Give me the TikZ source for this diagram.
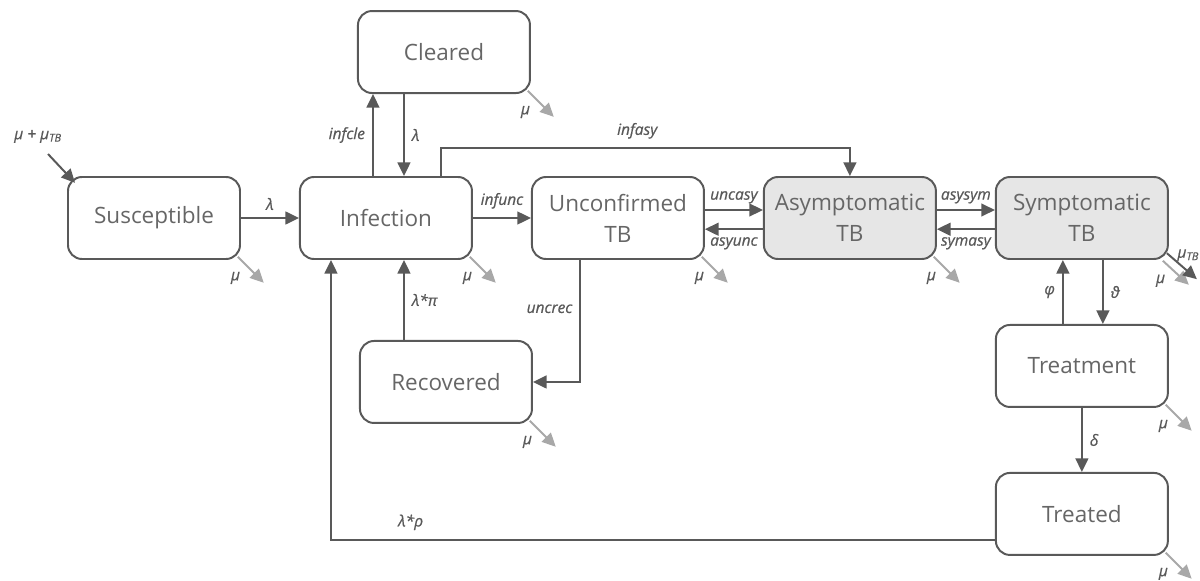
\documentclass[tikz,border=0pt]{standalone}
\usepackage{fontspec}
\setmainfont{Open Sans}
\newfontfamily\ratefont{Open Sans}[FakeBold=0.7]
\usepackage{xcolor}
\usepackage{tikz}
\usetikzlibrary{arrows.meta, positioning, calc}
\definecolor{edge}{HTML}{595959}
\definecolor{loss}{HTML}{A8A8A8}
\definecolor{tbfill}{HTML}{E6E6E6}
\definecolor{boxtext}{HTML}{666666}

\begin{document}
\begin{tikzpicture}[node distance=1.45cm,
  stage/.style={draw=edge, line width=1.4pt, rounded corners=10pt, minimum width=4.3cm, minimum height=2.05cm, align=center, text=boxtext, font=\fontsize{16}{22}\selectfont, inner sep=2pt},
  tb/.style={stage, fill=tbfill},
  flow/.style={draw=edge, line width=1.4pt, -{Triangle[length=3.4mm, width=3.2mm]}},
  drop/.style={draw=loss, line width=1.4pt, -{Triangle[length=3.4mm, width=3.2mm]}},
  rate/.style={text=edge, font=\ratefont\fontsize{11}{13}\selectfont\itshape, inner sep=2pt}]
  \useasboundingbox (0,0) rectangle (30,-14.525);
  % compartments
  \node[stage] (sus) at (3.85,-5.45) {Susceptible};
  \node[stage, right=of sus] (inf) {Infection};
  \node[stage, right=of inf] (unc) {Unconfirmed\\TB};
  \node[tb, right=of unc] (asy) {Asymptomatic\\TB};
  \node[tb, right=of asy] (sym) {Symptomatic\\TB};
  \node[stage, above=2.05cm of inf, xshift=1.45cm] (clr) {Cleared};
  \node[stage, below=2cm of inf, xshift=1.5cm] (rec) {Recovered};
  \node[stage, below=1.6cm of sym] (trt) {Treatment};
  \node[stage, below=1.6cm of trt] (trd) {Treated};
  % inflow
  \coordinate (src) at (1.2,-3.85);
  \node[rate, above=0.2cm of src, xshift=-0.25cm] (srclbl) {μ + μ\textsubscript{TB}};
  \draw[flow] (src) -- ([shift={(0.2,-0.17)}]sus.north west);
  % transitions
  \draw[flow] (sus) -- node[rate, above=3pt] {λ} (inf);
  \draw[flow] (inf) -- node[rate, above=4pt] {infunc} (unc);
  \draw[flow] ([yshift=0.2cm]unc.east) -- node[rate, above=2pt] {uncasy} ([yshift=0.2cm]asy.west);
  \draw[flow] ([yshift=-0.28cm]asy.west) -- node[rate, below=3pt] {asyunc} ([yshift=-0.28cm]unc.east);
  \draw[flow] ([yshift=0.2cm]asy.east) -- node[rate, above=2pt] {asysym} ([yshift=0.2cm]sym.west);
  \draw[flow] ([yshift=-0.28cm]sym.west) -- node[rate, below=3pt] {symasy} ([yshift=-0.28cm]asy.east);
  \draw[flow] ([xshift=-0.325cm]inf.north) -- node[rate, left=3pt] {infcle} ([xshift=-0.325cm]inf.north |- clr.south);
  \draw[flow] ([xshift=0.45cm]inf.north |- clr.south) -- node[rate, right=3pt] {λ} ([xshift=0.45cm]inf.north);
  \draw[flow] ([xshift=1.375cm]inf.north) -- ++(0,0.7) -| node[rate, above=4pt, pos=0.24] {infasy} (asy.north);
  \draw[flow] ([xshift=-0.94cm]unc.south) |- node[rate, left=3pt, pos=0.2] {uncrec} (rec.east);
  \draw[flow] ([xshift=-1.05cm]rec.north) -- node[rate, right=3pt] {λ*π} ([xshift=-1.05cm]rec.north |- inf.south);
  \draw[flow] ([yshift=-0.64cm]trd.west) -| node[rate, above=4pt, pos=0.44] {λ*ρ} ([xshift=-1.375cm]inf.south);
  \draw[flow] ([xshift=0.525cm]sym.south) -- node[rate, right=3pt] {ϑ} ([xshift=0.525cm]sym.south |- trt.north);
  \draw[flow] ([xshift=-0.475cm]trt.north) -- node[rate, left=3pt] {φ} ([xshift=-0.475cm]trt.north |- sym.south);
  \draw[flow] (trt) -- node[rate, right=3pt] {δ} (trd);
  % deaths
  \foreach \n in {sus,inf,clr,unc,asy,rec,trt,trd}
    \draw[drop] ([shift={(-0.08,0.08)}]\n.south east) -- ++(0.65,-0.65) node[rate, left=0.5cm, yshift=0.12cm] {μ};
  \draw[drop] ([shift={(-0.15,-0.02)}]sym.south east) -- ++(0.65,-0.6) node[rate, left=0.5cm, yshift=0.1cm] {μ};
  \draw[flow] ([shift={(-0.05,0.17)}]sym.south east) -- ++(0.75,-0.65) node[rate, above left=0.05cm and -0.15cm, yshift=0.3cm] {μ\textsubscript{TB}};
\end{tikzpicture}
\end{document}
